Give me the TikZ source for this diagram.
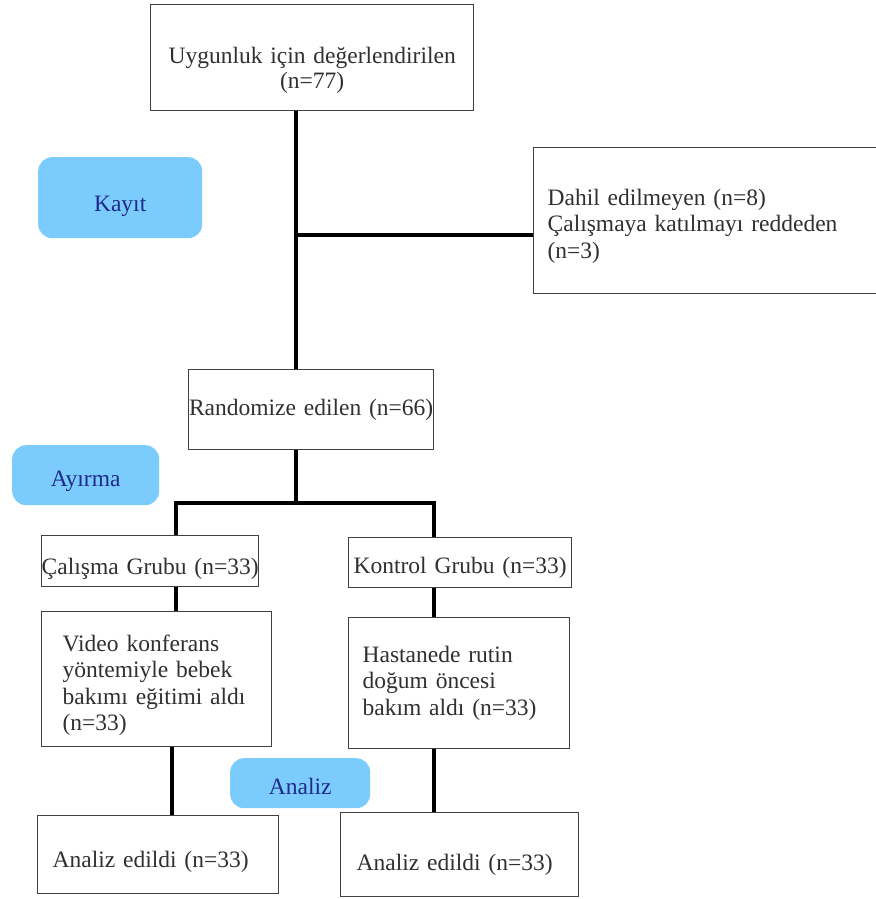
\documentclass[tikz,border=0pt]{standalone}
\usepackage{fontspec}
\setmainfont{Liberation Serif}
\definecolor{pillblue}{HTML}{7BCCFD}
\definecolor{pilltext}{HTML}{1F2A8C}
\definecolor{boxtext}{HTML}{303030}
\newcommand{\padtop}[1]{\rule{0pt}{#1}}
\begin{document}
\begin{tikzpicture}[x=1pt,y=-1pt,
  box/.style={draw=black!75, line width=1.3pt, fill=white, text=boxtext,
    font=\fontsize{23.5}{26.5}\selectfont, anchor=north west, inner ysep=0pt},
  pill/.style={fill=pillblue, rounded corners=14pt, text=pilltext,
    font=\fontsize{23.5}{26.5}\selectfont, anchor=north west, inner sep=0pt, align=center},
  conn/.style={line width=3.6pt, black, line join=miter}]
\useasboundingbox (0,0) rectangle (875,899);
% boxes
\node[box, minimum width=323pt, minimum height=106pt, inner xsep=0pt, text width=323pt, align=center]
  (top) at (150,4) {\padtop{41pt}Uygunluk için değerlendirilen\\[-1.5pt](n=77)};
\node[box, minimum width=344pt, minimum height=146pt, inner xsep=14pt, text width=316pt, align=left]
  (excl) at (533,147) {\padtop{27pt}Dahil edilmeyen (n=8)\\Çalışmaya katılmayı reddeden\\(n=3)};
\node[box, minimum width=245pt, minimum height=80pt, inner xsep=0pt, text width=245pt, align=center]
  (rand) at (188,369) {Randomize edilen (n=66)};
\node[box, minimum width=217pt, minimum height=51pt, inner xsep=0pt, text width=217pt, align=center]
  (calis) at (41,535) {\padtop{31pt}Çalışma Grubu (n=33)};
\node[box, minimum width=223pt, minimum height=50pt, inner xsep=0pt, text width=223pt, align=center]
  (kont) at (348,537) {\padtop{27pt}Kontrol Grubu (n=33)};
\node[box, minimum width=230pt, minimum height=135pt, inner xsep=21pt, text width=188pt, align=left]
  (video) at (41,611) {\padtop{29pt}Video konferans\\yöntemiyle bebek\\bakımı eğitimi aldı\\(n=33)};
\node[box, minimum width=221pt, minimum height=131pt, inner xsep=14pt, text width=193pt, align=left]
  (hast) at (348,617) {Hastanede rutin\\doğum öncesi\\bakım aldı (n=33)\\[8pt]};
\node[box, minimum width=241pt, minimum height=78pt, inner xsep=15pt, text width=211pt, align=left]
  (anl) at (37,815) {\padtop{31pt}Analiz edildi (n=33)};
\node[box, minimum width=238pt, minimum height=84pt, inner xsep=16pt, text width=206pt, align=left]
  (anr) at (340,812) {\padtop{37pt}Analiz edildi (n=33)};
% stage pills
\node[pill, minimum width=164pt, minimum height=81pt] (kayit) at (38,157) {\padtop{33pt}Kayıt};
\node[pill, minimum width=147pt, minimum height=60pt] (ayirma) at (12,445) {\padtop{27pt}Ayırma};
\node[pill, minimum width=140pt, minimum height=50pt] (analiz) at (230,758) {\padtop{23pt}Analiz};
% connectors
\coordinate (sp) at (296,235);
\coordinate (split) at (296,503);
\coordinate (L) at (176,503);
\coordinate (R) at (434,503);
\coordinate (L2) at (172,780);
\draw[conn] (top.south -| sp) -- (rand.north -| sp);
\draw[conn] (sp) -- (sp -| excl.west);
\draw[conn] (rand.south -| split) -- (split);
\draw[conn] (L |- calis.north) -- (L) -- (R) -- (R |- kont.north);
\draw[conn] (L |- calis.south) -- (L |- video.north);
\draw[conn] (R |- kont.south) -- (R |- hast.north);
\draw[conn] (L2 |- video.south) -- (L2 |- anl.north);
\draw[conn] (R |- hast.south) -- (R |- anr.north);
\end{tikzpicture}
\end{document}
